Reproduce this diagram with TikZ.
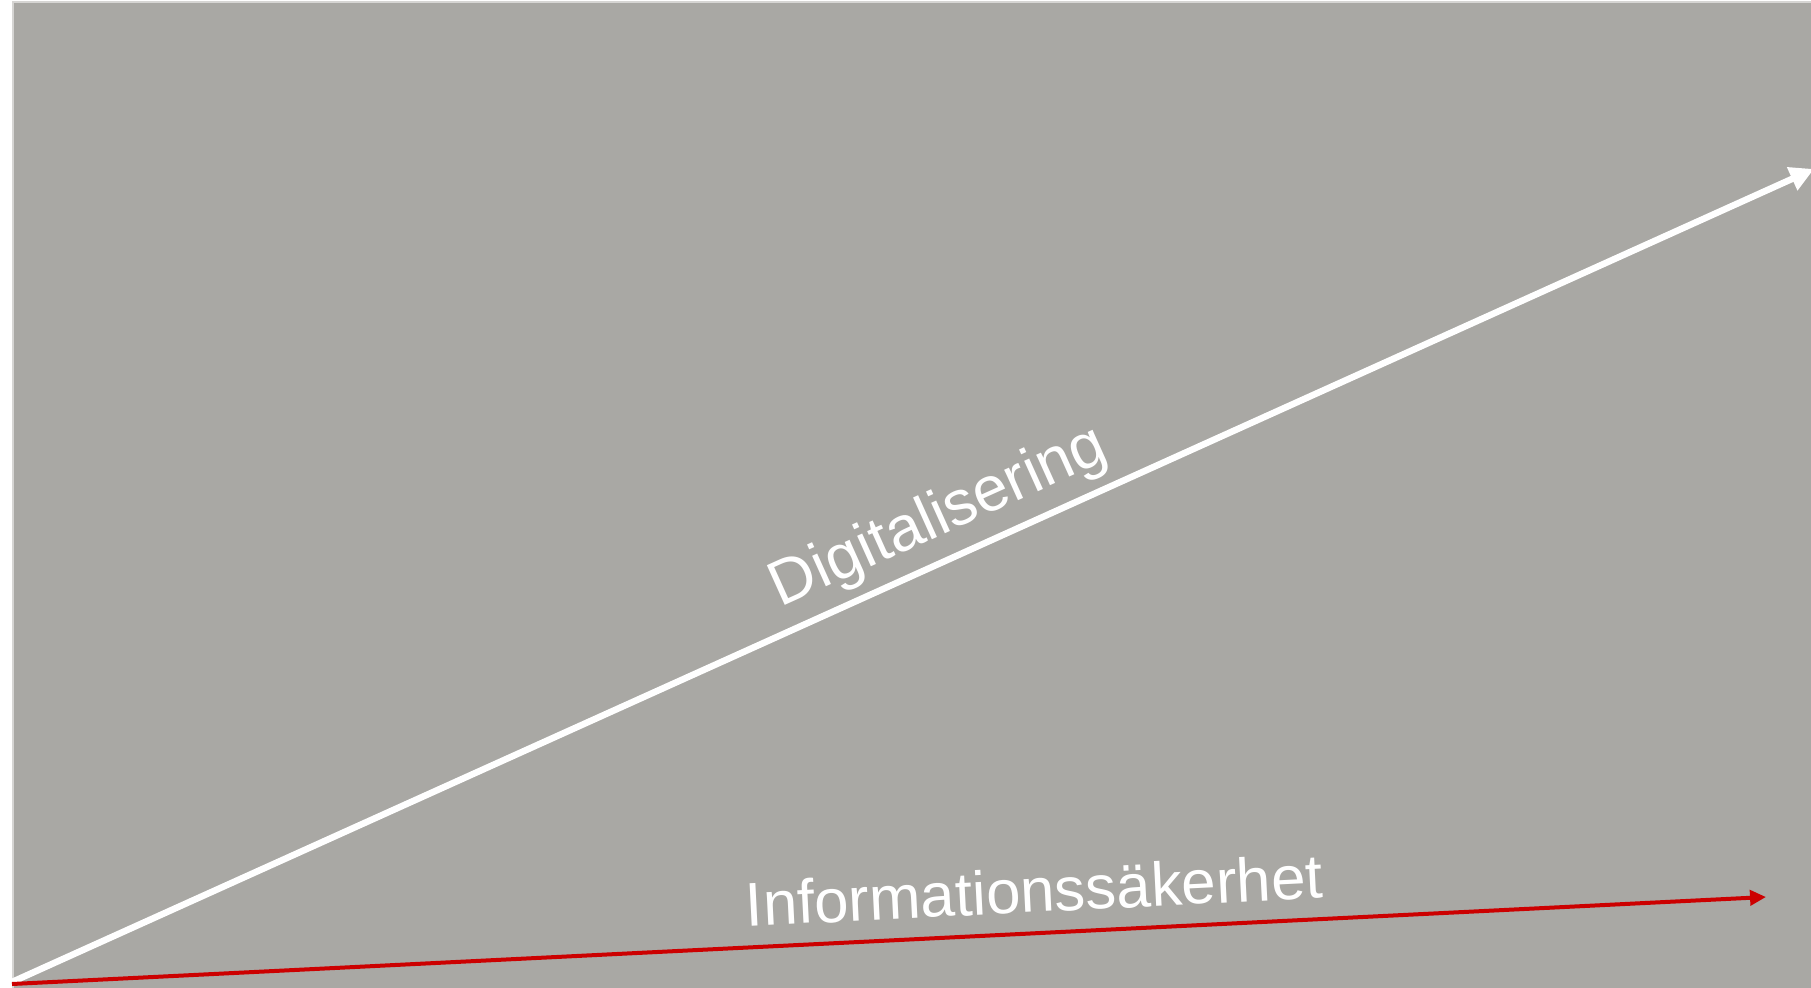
\documentclass[tikz,border=0pt]{standalone}
\usepackage{fontspec}
\setmainfont{Liberation Sans}
\usetikzlibrary{arrows.meta}
\definecolor{bggray}{HTML}{A9A8A4}
\definecolor{edgegray}{HTML}{D6D5D3}
\definecolor{infored}{HTML}{CC0000}

\begin{document}
\begin{tikzpicture}[
    lbl/.style={text=white,sloped,anchor=base,inner sep=0pt}
  ]
      \useasboundingbox (0,0) rectangle (18.11,9.87);
      \draw[edgegray,line width=0.02cm,fill=bggray] (0.13,-0.5) rectangle (18.6,9.845);
      \coordinate (o1) at (0.12,0.05);
      \coordinate (o2) at (0.12,0.03);
      \coordinate (digi) at (18.14,8.18);
      \coordinate (info) at (17.66,0.90);
      \draw[white,line width=0.065cm,-{Triangle[length=0.24cm,width=0.24cm]}] (o1) -- (digi) node[lbl,pos=0.524,yshift=0.25cm,font=\fontsize{18}{22}\selectfont] {Digitalisering};
      \draw[infored,line width=0.04cm,-{Triangle[length=0.16cm,width=0.15cm]}] (o2) -- (info) node[lbl,pos=0.584,yshift=0.21cm,font=\fontsize{17.6}{22}\selectfont] {Informationssäkerhet};
\end{tikzpicture}
\end{document}
